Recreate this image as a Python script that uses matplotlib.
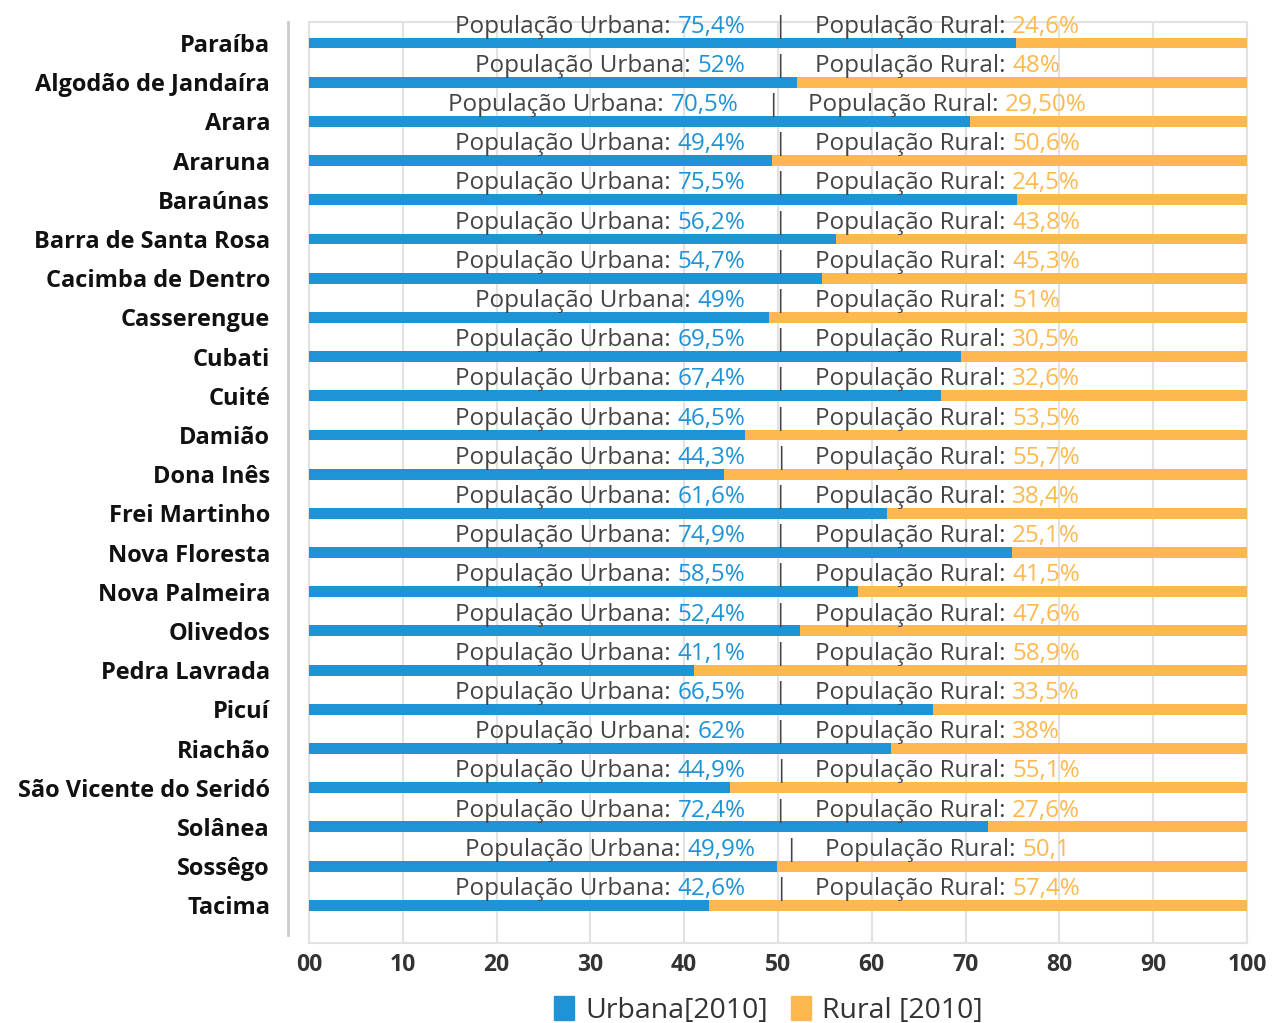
import matplotlib.pyplot as plt
import numpy as np
from matplotlib.patches import Patch
from matplotlib.lines import Line2D
from matplotlib.offsetbox import TextArea, HPacker, AnnotationBbox

plt.rcParams['font.family'] = ['Open Sans', 'DejaVu Sans']

# dados
municipios = ['Paraíba', 'Algodão de Jandaíra', 'Arara', 'Araruna', 'Baraúnas',
              'Barra de Santa Rosa', 'Cacimba de Dentro', 'Casserengue', 'Cubati',
              'Cuité', 'Damião', 'Dona Inês', 'Frei Martinho', 'Nova Floresta',
              'Nova Palmeira', 'Olivedos', 'Pedra Lavrada', 'Picuí', 'Riachão',
              'São Vicente do Seridó', 'Solânea', 'Sossêgo', 'Tacima']
urbana = [75.4, 52, 70.5, 49.4, 75.5, 56.2, 54.7, 49, 69.5, 67.4, 46.5, 44.3,
          61.6, 74.9, 58.5, 52.4, 41.1, 66.5, 62, 44.9, 72.4, 49.9, 42.6]
rural = [24.6, 48, 29.5, 50.6, 24.5, 43.8, 45.3, 51, 30.5, 32.6, 53.5, 55.7,
         38.4, 25.1, 41.5, 47.6, 58.9, 33.5, 38, 55.1, 27.6, 50.1, 57.4]
rotulo_urb = ['75,4%', '52%', '70,5%', '49,4%', '75,5%', '56,2%', '54,7%', '49%',
              '69,5%', '67,4%', '46,5%', '44,3%', '61,6%', '74,9%', '58,5%', '52,4%',
              '41,1%', '66,5%', '62%', '44,9%', '72,4%', '49,9%', '42,6%']
rotulo_rur = ['24,6%', '48%', '29,50%', '50,6%', '24,5%', '43,8%', '45,3%', '51%',
              '30,5%', '32,6%', '53,5%', '55,7%', '38,4%', '25,1%', '41,5%', '47,6%',
              '58,9%', '33,5%', '38%', '55,1%', '27,6%', '50,1', '57,4%']
ticks = [0, 10, 20, 30, 40, 50, 60, 70, 80, 90, 100]
tick_labels = ['00', '10', '20', '30', '40', '50', '60', '70', '80', '90', '100']

azul = '#1e93d6'
laranja = '#fdb94f'
cinza = '#444444'

fig = plt.figure(figsize=(12.74, 10.23), dpi=100)
ax = fig.add_axes([0.2425, 0.0782, 0.7363, 0.9003])

y = np.arange(len(municipios))
ax.barh(y, urbana, height=0.28, color=azul, zorder=3)
ax.barh(y, rural, left=urbana, height=0.28, color=laranja, zorder=3)

# rotulos acima das barras
fs = 17.5
for i in range(len(municipios)):
    parte1 = HPacker(children=[TextArea('População Urbana:', textprops=dict(color=cinza, fontsize=fs)),
                               TextArea(rotulo_urb[i], textprops=dict(color=azul, fontsize=fs))],
                     sep=5, pad=0, align='baseline')
    parte2 = HPacker(children=[TextArea('População Rural:', textprops=dict(color=cinza, fontsize=fs)),
                               TextArea(rotulo_rur[i], textprops=dict(color=laranja, fontsize=fs))],
                     sep=5, pad=0, align='baseline')
    barra = TextArea('|', textprops=dict(color=cinza, fontsize=fs))
    caixa = HPacker(children=[parte1, barra, parte2], sep=20, pad=0, align='baseline')
    ab = AnnotationBbox(caixa, (48.9, i - 0.42), frameon=False, box_alignment=(0.5, 0.5),
                        pad=0, zorder=4)
    ax.add_artist(ab)

ax.set_xlim(0, 100)
ax.set_ylim(22.96, -0.536)
ax.set_yticks(y)
ax.set_yticklabels(municipios, fontsize=17, fontweight='bold', color='#111111')
ax.set_xticks(ticks)
ax.set_xticklabels(tick_labels, fontsize=16.5, fontweight='bold', color='#333333')
ax.tick_params(axis='both', length=0)
ax.tick_params(axis='y', pad=28)
ax.tick_params(axis='x', pad=7)
ax.grid(axis='x', color='#e2e2e2', linewidth=1.5, zorder=0)
for s in ax.spines.values():
    s.set_color('#e2e2e2')
    s.set_linewidth(1.5)

# linha vertical separando os nomes
fig.add_artist(Line2D([288 / 1274, 288 / 1274], [1 - 22 / 1023, 1 - 935 / 1023],
                      color='#cccccc', linewidth=2))

handles = [Patch(color=azul, label='Urbana[2010]'), Patch(color=laranja, label='Rural [2010]')]
fig.legend(handles=handles, loc='lower center', bbox_to_anchor=(0.603, -0.027), ncol=2,
           frameon=False, fontsize=20.5, handlelength=0.7, handleheight=0.9,
           handletextpad=0.4, columnspacing=0.8, labelcolor='#333333')

fig.savefig('out.png', dpi=100)
